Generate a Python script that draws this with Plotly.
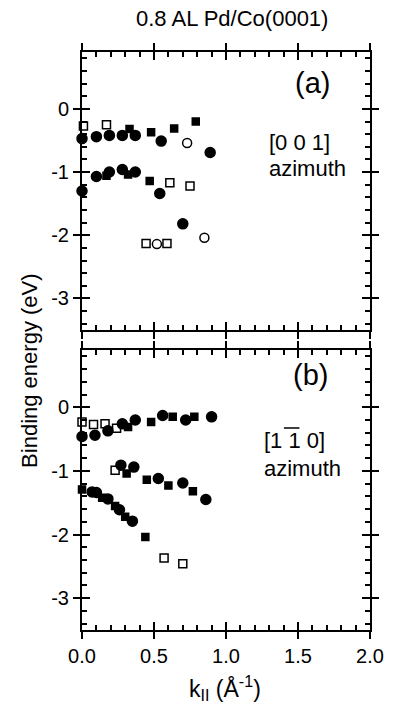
import plotly.graph_objects as go

# ---------------- data ----------------
# panel (a) [0 0 1] azimuth
a_fc_x = [0.0, 0.10, 0.19, 0.28, 0.37, 0.55, 0.89, 0.0, 0.10, 0.19, 0.28, 0.37, 0.54, 0.70]
a_fc_y = [-0.47, -0.44, -0.42, -0.42, -0.42, -0.51, -0.69, -1.30, -1.07, -1.00, -0.96, -1.00, -1.34, -1.82]
a_fs_x = [0.33, 0.48, 0.64, 0.79, 0.17, 0.32, 0.47]
a_fs_y = [-0.32, -0.37, -0.31, -0.20, -1.06, -1.04, -1.14]
a_os_x = [0.01, 0.17, 0.61, 0.75, 0.445, 0.59]
a_os_y = [-0.27, -0.25, -1.17, -1.22, -2.13, -2.13]
a_oc_x = [0.73, 0.85, 0.52]
a_oc_y = [-0.54, -2.04, -2.14]

# panel (b) [1 -1 0] azimuth
b_fc_x = [0.0, 0.09, 0.18, 0.28, 0.37, 0.56, 0.72, 0.90, 0.27, 0.36, 0.53, 0.70, 0.86, 0.07, 0.10, 0.18, 0.26, 0.35]
b_fc_y = [-0.46, -0.44, -0.37, -0.26, -0.20, -0.13, -0.20, -0.15, -0.91, -0.94, -1.12, -1.19, -1.45, -1.33, -1.34, -1.44, -1.61, -1.79]
b_fs_x = [0.32, 0.48, 0.63, 0.78, 0.31, 0.45, 0.60, 0.77, 0.0, 0.14, 0.23, 0.30, 0.44]
b_fs_y = [-0.31, -0.23, -0.15, -0.15, -1.04, -1.14, -1.23, -1.32, -1.29, -1.42, -1.55, -1.72, -2.04]
b_os_x = [0.0, 0.08, 0.16, 0.24, 0.23, 0.57, 0.70]
b_os_y = [-0.23, -0.27, -0.26, -0.33, -0.99, -2.37, -2.46]

x_tickvals = [0.0, 0.5, 1.0, 1.5, 2.0]
x_ticktext = ["0.0", "0.5", "1.0", "1.5", "2.0"]
y_tickvals = [0, -1, -2, -3]
y_ticktext = ["0", "-1", "-2", "-3"]

x_range = [0.0, 2.0]
y_range = [-3.5, 0.9]

FONT = "Liberation Sans, Arial, sans-serif"

fig = go.Figure()


def add_pts(x, y, symbol, xa, ya, size):
    fig.add_trace(go.Scatter(
        x=x, y=y, mode="markers", xaxis=xa, yaxis=ya, cliponaxis=False,
        showlegend=False,
        marker=dict(symbol=symbol, size=size, color="black",
                    line=dict(color="black", width=1.5)),
    ))


# panel a  -> x / y
add_pts(a_os_x, a_os_y, "square-open", "x", "y", 8)
add_pts(a_oc_x, a_oc_y, "circle-open", "x", "y", 9)
add_pts(a_fs_x, a_fs_y, "square", "x", "y", 7)
add_pts(a_fc_x, a_fc_y, "circle", "x", "y", 10)
# panel b  -> x2 / y2
add_pts(b_os_x, b_os_y, "square-open", "x2", "y2", 8)
add_pts(b_fs_x, b_fs_y, "square", "x2", "y2", 7)
add_pts(b_fc_x, b_fc_y, "circle", "x2", "y2", 10)

# invisible traces for the coincident label / outer-tick subplots
fig.add_trace(go.Scatter(x=[0.0], y=[0.0], mode="markers", marker=dict(opacity=0),
                         xaxis="x3", yaxis="y3", showlegend=False, hoverinfo="skip"))
fig.add_trace(go.Scatter(x=[0.0], y=[0.0], mode="markers", marker=dict(opacity=0),
                         xaxis="x4", yaxis="y4", showlegend=False, hoverinfo="skip"))

dom_x = [0.0, 1.0]
dom_a = [0.519, 1.0]
dom_b = [0.0, 0.4844]

tickfont = dict(family=FONT, size=20, color="black")
TC = "black"


# inner major + minor ticks on all four sides
def inner_x(anchor):
    return dict(range=x_range, anchor=anchor, domain=dom_x, showline=True,
                linecolor="black", linewidth=2, mirror="allticks", ticks="inside",
                ticklen=8, tickwidth=2, tickcolor=TC, tickmode="linear",
                tick0=0, dtick=0.5, showticklabels=False, showgrid=False,
                zeroline=False,
                minor=dict(ticks="inside", ticklen=5, tickwidth=1.5, tickcolor=TC,
                           tickmode="linear", tick0=0, dtick=0.1, showgrid=False))


def inner_y(anchor, domain):
    return dict(range=y_range, anchor=anchor, domain=domain, showline=True,
                linecolor="black", linewidth=2, mirror="allticks", ticks="inside",
                ticklen=8, tickwidth=2, tickcolor=TC, tickmode="linear",
                tick0=0, dtick=1, showticklabels=False, showgrid=False,
                zeroline=False,
                minor=dict(ticks="inside", ticklen=5, tickwidth=1.5, tickcolor=TC,
                           tickmode="linear", tick0=0, dtick=0.2, showgrid=False))


# labels + outer half of the major ticks
def outer_x(anchor, labels):
    return dict(
        range=x_range, anchor=anchor, domain=dom_x, showline=True, linecolor="black",
        linewidth=2, mirror="allticks", ticks="outside", ticklen=7, tickwidth=2,
        tickcolor=TC, tickmode="array", tickvals=x_tickvals, ticktext=x_ticktext,
        showticklabels=labels, tickfont=tickfont, showgrid=False, zeroline=False,
    )


def outer_y(anchor, domain):
    return dict(
        range=y_range, anchor=anchor, domain=domain, showline=True, linecolor="black",
        linewidth=2, mirror="allticks", ticks="outside", ticklen=7, tickwidth=2,
        tickcolor=TC, tickmode="array", tickvals=y_tickvals, ticktext=y_ticktext,
        tickfont=tickfont, showgrid=False, zeroline=False,
    )


fig.update_layout(
    width=396, height=706,
    margin=dict(l=82, r=16, t=52, b=76),
    paper_bgcolor="white", plot_bgcolor="rgba(0,0,0,0)",
    font=dict(family=FONT, color="black"),
    xaxis=inner_x("y"),
    yaxis=inner_y("x", dom_a),
    xaxis2=inner_x("y2"),
    yaxis2=inner_y("x2", dom_b),
    xaxis3=outer_x("y3", False),
    yaxis3=outer_y("x3", dom_a),
    xaxis4=outer_x("y4", True),
    yaxis4=outer_y("x4", dom_b),
)

ann = [
    dict(text="0.8 AL Pd/Co(0001)", x=0.52, y=1.0588, font=dict(size=22)),
    dict(text="Binding energy (eV)", x=-0.1846, y=0.448, textangle=-90, font=dict(size=22)),
    dict(text="k<sub>II</sub> (Å<sup>-1</sup>)", x=0.497, y=-0.100, font=dict(size=23)),
    dict(text="(a)", x=0.802, y=0.946, font=dict(size=29)),
    dict(text="[0 0 1]", x=0.641, y=0.844, xanchor="left", font=dict(size=22)),
    dict(text="azimuth", x=0.641, y=0.799, xanchor="left", font=dict(size=22)),
    dict(text="(b)", x=0.795, y=0.441, font=dict(size=29)),
    dict(text="[1 1 0]", x=0.624, y=0.327, xanchor="left", font=dict(size=22)),
    dict(text="azimuth", x=0.624, y=0.280, xanchor="left", font=dict(size=22)),
]
for a in ann:
    a.setdefault("xanchor", "center")
    a.update(xref="paper", yref="paper", yanchor="middle", showarrow=False)
    a["font"].update(family=FONT, color="black")
    fig.add_annotation(**a)

# overline on the middle "1" of [1 -1 0]
fig.add_shape(type="line", xref="paper", yref="paper",
              x0=0.701, x1=0.755, y0=0.3495, y1=0.3495,
              line=dict(color="black", width=1.5))

fig.write_html("out.html")
